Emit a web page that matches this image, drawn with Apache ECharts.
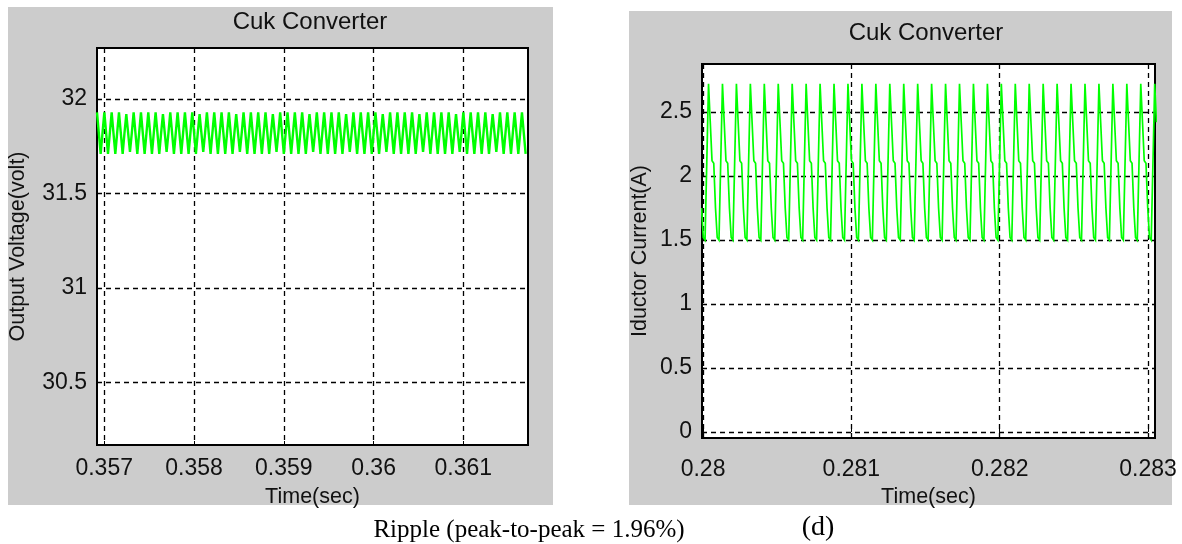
<!DOCTYPE html>
<html>
<head>
<meta charset="utf-8">
<script src="https://cdn.jsdelivr.net/npm/echarts@6/dist/echarts.min.js"></script>
<style>
  html, body { margin: 0; padding: 0; background: #fff; }
  #chart { width: 1182px; height: 544px; }
</style>
</head>
<body>
<div id="chart"></div>
<script>
// output voltage (V), zero-order-hold samples every voutStep seconds
const voutStart = 0.35692;
const voutStep = 0.0000204;
const voutValues = [
  31.93, 31.82, 31.71, 31.82,  31.93, 31.82, 31.71, 31.82,  31.93, 31.82, 31.71, 31.82,  31.93, 31.82, 31.71, 31.82,
  31.92, 31.82, 31.72, 31.82,  31.93, 31.82, 31.71, 31.82,  31.93, 31.82, 31.71, 31.82,  31.93, 31.82, 31.71, 31.82,
  31.93, 31.82, 31.71, 31.82,  31.92, 31.82, 31.72, 31.82,  31.93, 31.82, 31.71, 31.82,  31.93, 31.82, 31.71, 31.82,
  31.93, 31.82, 31.71, 31.82,  31.93, 31.82, 31.71, 31.82,  31.92, 31.82, 31.72, 31.82,  31.93, 31.82, 31.71, 31.82,
  31.93, 31.82, 31.71, 31.82,  31.93, 31.82, 31.71, 31.82,  31.93, 31.82, 31.71, 31.82,  31.92, 31.82, 31.72, 31.82,
  31.93, 31.82, 31.71, 31.82,  31.93, 31.82, 31.71, 31.82,  31.93, 31.82, 31.71, 31.82,  31.93, 31.82, 31.71, 31.82,
  31.92, 31.82, 31.72, 31.82,  31.93, 31.82, 31.71, 31.82,  31.93, 31.82, 31.71, 31.82,  31.93, 31.82, 31.71, 31.82,
  31.93, 31.82, 31.71, 31.82,  31.92, 31.82, 31.72, 31.82,  31.93, 31.82, 31.71, 31.82,  31.93, 31.82, 31.71, 31.82,
  31.93, 31.82, 31.71, 31.82,  31.93, 31.82, 31.71, 31.82,  31.92, 31.82, 31.72, 31.82,  31.93, 31.82, 31.71, 31.82,
  31.93, 31.82, 31.71, 31.82,  31.93, 31.82, 31.71, 31.82,  31.93, 31.82, 31.71, 31.82,  31.92, 31.82, 31.72, 31.82,
  31.93, 31.82, 31.71, 31.82,  31.93, 31.82, 31.71, 31.82,  31.93, 31.82, 31.71, 31.82,  31.93, 31.82, 31.71, 31.82,
  31.92, 31.82, 31.72, 31.82,  31.93, 31.82, 31.71, 31.82,  31.93, 31.82, 31.71, 31.82,  31.93, 31.82, 31.71, 31.82,
  31.93, 31.82, 31.71, 31.82,  31.92, 31.82, 31.72, 31.82,  31.93, 31.82, 31.71, 31.82,  31.93, 31.82, 31.71, 31.82,
  31.93, 31.82, 31.71, 31.82,  31.93, 31.82, 31.71, 31.82,  31.92, 31.82, 31.72, 31.82,  31.93, 31.82, 31.71, 31.82,
  31.93, 31.82, 31.71, 31.82,  31.93, 31.82, 31.71, 31.82,  31.93, 31.82, 31.71
];
const voutTicksX = [0.357, 0.358, 0.359, 0.36, 0.361];
const voutTicksY = [30.5, 31, 31.5, 32];

// inductor current (A), samples every iStep seconds
const iStart = 0.27999;
const iStep = 0.00001175;
const iValues = [
  1.75, 1.52, 1.50, 1.50,
  2.72, 2.42, 2.12, 2.10, 1.75, 1.52, 1.50, 1.50,
  2.72, 2.42, 2.12, 2.10, 1.75, 1.52, 1.50, 1.50,
  2.72, 2.42, 2.12, 2.10, 1.75, 1.52, 1.50, 1.50,
  2.72, 2.42, 2.12, 2.10, 1.75, 1.52, 1.50, 1.50,
  2.72, 2.42, 2.12, 2.10, 1.75, 1.52, 1.50, 1.50,
  2.72, 2.42, 2.12, 2.10, 1.75, 1.52, 1.50, 1.50,
  2.72, 2.42, 2.12, 2.10, 1.75, 1.52, 1.50, 1.50,
  2.72, 2.42, 2.12, 2.10, 1.75, 1.52, 1.50, 1.50,
  2.72, 2.42, 2.12, 2.10, 1.75, 1.52, 1.50, 1.50,
  2.72, 2.42, 2.12, 2.10, 1.75, 1.52, 1.50, 1.50,
  2.72, 2.42, 2.12, 2.10, 1.75, 1.52, 1.50, 1.50,
  2.72, 2.42, 2.12, 2.10, 1.75, 1.52, 1.50, 1.50,
  2.72, 2.42, 2.12, 2.10, 1.75, 1.52, 1.50, 1.50,
  2.72, 2.42, 2.12, 2.10, 1.75, 1.52, 1.50, 1.50,
  2.72, 2.42, 2.12, 2.10, 1.75, 1.52, 1.50, 1.50,
  2.72, 2.42, 2.12, 2.10, 1.75, 1.52, 1.50, 1.50,
  2.72, 2.42, 2.12, 2.10, 1.75, 1.52, 1.50, 1.50,
  2.72, 2.42, 2.12, 2.10, 1.75, 1.52, 1.50, 1.50,
  2.72, 2.42, 2.12, 2.10, 1.75, 1.52, 1.50, 1.50,
  2.72, 2.42, 2.12, 2.10, 1.75, 1.52, 1.50, 1.50,
  2.72, 2.42, 2.12, 2.10, 1.75, 1.52, 1.50, 1.50,
  2.72, 2.42, 2.12, 2.10, 1.75, 1.52, 1.50, 1.50,
  2.72, 2.42, 2.12, 2.10, 1.75, 1.52, 1.50, 1.50,
  2.72, 2.42, 2.12, 2.10, 1.75, 1.52, 1.50, 1.50,
  2.72, 2.42, 2.12, 2.10, 1.75, 1.52, 1.50, 1.50,
  2.72, 2.42, 2.12, 2.10, 1.75, 1.52, 1.50, 1.50,
  2.72, 2.42, 2.12, 2.10, 1.75, 1.52, 1.50, 1.50,
  2.72, 2.42, 2.12, 2.10, 1.75, 1.52, 1.50, 1.50,
  2.72, 2.42, 2.12, 2.10, 1.75, 1.52, 1.50, 1.50,
  2.72, 2.42, 2.12, 2.10, 1.75, 1.52, 1.50, 1.50,
  2.72, 2.42, 2.12, 2.10, 1.75, 1.52, 1.50, 1.50,
  2.72, 2.42, 2.12, 2.10, 1.75, 1.52, 1.50, 1.50,
  2.72, 2.42
];
const iTicksX = [0.28, 0.281, 0.282, 0.283];
const iTicksY = [0, 0.5, 1, 1.5, 2, 2.5];

const font = '"Liberation Sans", Arial, sans-serif';
const ink = '#111';
const gridDash = { color: '#000', type: [5, 4], width: 1.3 };

function timeAxis(gridIndex, min, max, ticks, margin, nameGap) {
  return {
    type: 'value', gridIndex, min, max,
    name: 'Time(sec)', nameLocation: 'middle', nameGap,
    nameTextStyle: { color: ink, fontSize: 21.5, fontFamily: font },
    axisLine: { show: false },
    axisTick: { show: true, inside: true, length: 4, customValues: ticks, lineStyle: { color: '#000' } },
    axisLabel: { customValues: ticks, margin, color: ink, fontSize: 23, fontFamily: font },
    splitLine: { show: true, lineStyle: gridDash }
  };
}

function valueAxis(gridIndex, min, max, ticks, name, nameGap) {
  return {
    type: 'value', gridIndex, min, max,
    name, nameLocation: 'middle', nameGap,
    nameTextStyle: { color: ink, fontSize: 21.5, fontFamily: font },
    axisLine: { show: false },
    axisTick: { show: true, inside: true, length: 4, customValues: ticks, lineStyle: { color: '#000' } },
    axisLabel: { customValues: ticks, margin: 10, color: ink, fontSize: 23, fontFamily: font },
    splitLine: { show: true, lineStyle: gridDash }
  };
}

const plotBox = { show: true, backgroundColor: '#fff', borderColor: '#000', borderWidth: 2 };

const chart = echarts.init(document.getElementById('chart'), null, { renderer: 'canvas' });

chart.setOption({
  backgroundColor: '#fff',
  animation: false,
  grid: [
    Object.assign({ left: 97, top: 48, width: 431, height: 397 }, plotBox),
    Object.assign({ left: 702, top: 64, width: 453, height: 374 }, plotBox)
  ],
  xAxis: [
    timeAxis(0, 0.35692, 0.36172, voutTicksX, 12, 41),
    timeAxis(1, 0.279993, 0.283047, iTicksX, 20, 42)
  ],
  yAxis: [
    valueAxis(0, 30.17, 32.27, voutTicksY, 'Output Voltage(volt)', 68),
    valueAxis(1, -0.047, 2.875, iTicksY, 'Iductor Current(A)', 51)
  ],
  graphic: [
    { type: 'rect', z: -100, shape: { x: 8, y: 7, width: 545, height: 498 }, style: { fill: '#cccccc' } },
    { type: 'rect', z: -100, shape: { x: 629, y: 11, width: 543, height: 494 }, style: { fill: '#cccccc' } },
    { type: 'text', z: 100, x: 310, y: 22, style: { text: 'Cuk Converter', font: '24px ' + font, fill: ink, textAlign: 'center', textVerticalAlign: 'middle' } },
    { type: 'text', z: 100, x: 926, y: 33, style: { text: 'Cuk Converter', font: '24px ' + font, fill: ink, textAlign: 'center', textVerticalAlign: 'middle' } },
    { type: 'text', z: 100, x: 529, y: 530, style: { text: 'Ripple (peak-to-peak = 1.96%)', font: '25px "Liberation Serif", "Times New Roman", serif', fill: '#000', textAlign: 'center', textVerticalAlign: 'middle' } },
    { type: 'text', z: 100, x: 818, y: 528, style: { text: '(d)', font: '28px "Liberation Serif", "Times New Roman", serif', fill: '#000', textAlign: 'center', textVerticalAlign: 'middle' } }
  ],
  series: [
    {
      type: 'line', xAxisIndex: 0, yAxisIndex: 0, step: 'end', symbol: 'none',
      lineStyle: { color: '#00ff00', width: 2.4, join: 'miter', cap: 'butt' },
      data: voutValues.map((v, i) => [voutStart + i * voutStep, v])
    },
    {
      type: 'line', xAxisIndex: 1, yAxisIndex: 1, symbol: 'none',
      lineStyle: { color: '#00ff00', width: 1.7, join: 'miter' },
      data: iValues.map((v, i) => [iStart + i * iStep, v])
    }
  ]
});
</script>
</body>
</html>
